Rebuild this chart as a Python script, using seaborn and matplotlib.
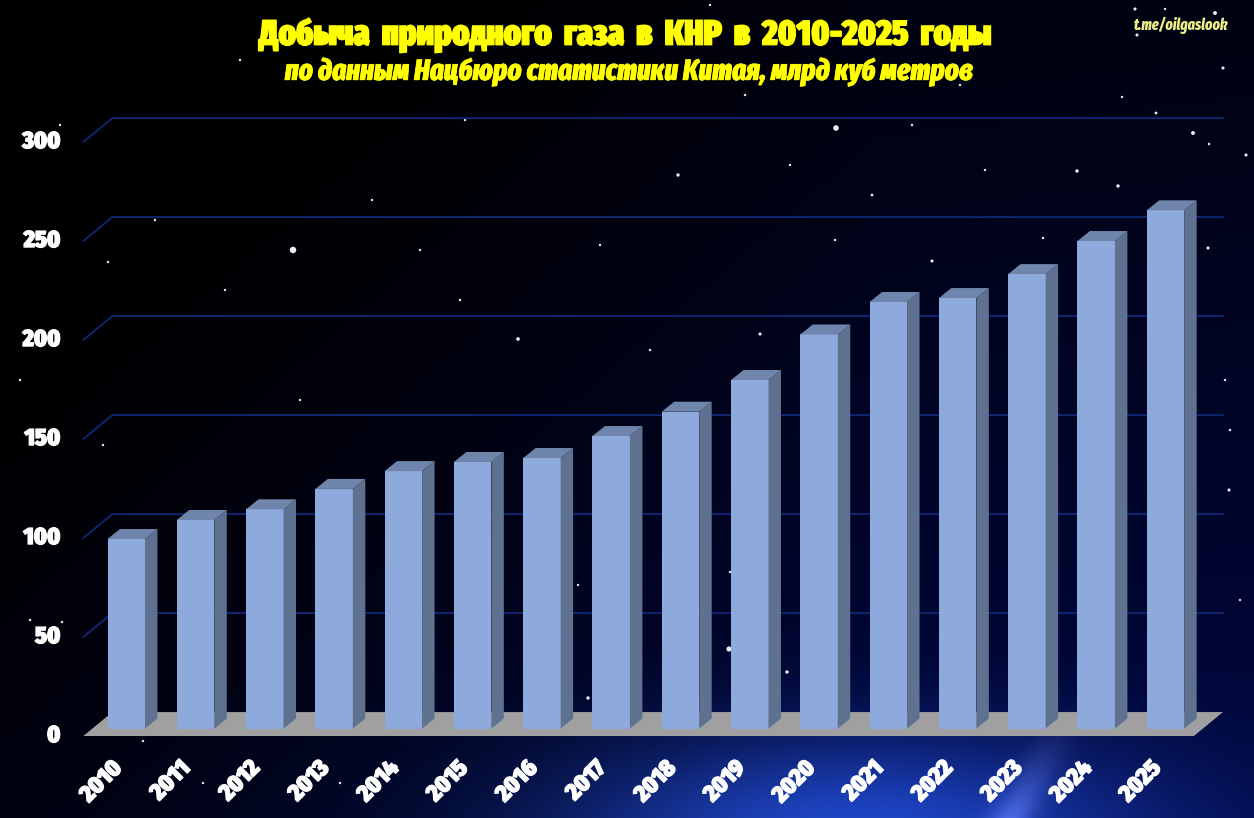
import numpy as np
import matplotlib
matplotlib.use('Agg')
import matplotlib.pyplot as plt
import matplotlib.patheffects as pe
from matplotlib.patches import Polygon
from matplotlib.transforms import ScaledTranslation
import seaborn as sns

years = ['2010', '2011', '2012', '2013', '2014', '2015', '2016', '2017',
         '2018', '2019', '2020', '2021', '2022', '2023', '2024', '2025']
output_bcm = [95.7, 105.3, 110.7, 121, 130, 134.6, 136.6, 147.7,
              160, 176, 199, 215.4, 217.4, 229.5, 246.2, 261.7]
y_ticks = [0, 50, 100, 150, 200, 250, 300]

title = 'Добыча  природного  газа  в  КНР  в  2010-2025  годы'
subtitle = 'по данным Нацбюро статистики Китая, млрд куб метров'
source = 't.me/oilgaslook'

# звезды фона, в пикселях картинки (x, y, размер)
stars = [(293, 250, 22), (836, 128, 16), (518, 339, 7), (1193, 133, 8), (1246, 155, 5),
         (678, 175, 6), (760, 334, 5), (729, 649, 14), (588, 698, 6), (787, 672, 6),
         (1229, 490, 5), (1118, 186, 6), (1077, 171, 6), (932, 261, 5), (872, 195, 4),
         (1215, 13, 8), (1135, 9, 5), (1165, 9, 3), (1137, 35, 5), (1223, 68, 5),
         (1156, 113, 4), (1043, 238, 3), (1208, 248, 5), (1166, 258, 4), (1209, 144, 3),
         (1122, 97, 3), (60, 125, 3), (108, 262, 3), (155, 220, 3), (225, 290, 3),
         (372, 200, 3), (420, 250, 3), (465, 120, 3), (600, 245, 3), (745, 95, 3),
         (912, 125, 3), (985, 170, 3), (30, 620, 3), (62, 622, 3), (103, 445, 3),
         (20, 380, 3), (143, 741, 3), (203, 783, 3), (340, 783, 3), (560, 600, 3),
         (578, 585, 3), (730, 572, 3), (790, 165, 3), (835, 240, 3), (960, 85, 3),
         (1240, 600, 3), (1225, 380, 3), (240, 60, 3), (710, 5, 3), (1195, 700, 3),
         (1040, 400, 3), (1230, 430, 3), (650, 350, 3), (300, 400, 3), (460, 300, 3)]

W, H = 1254, 818
DEPTH_X, DEPTH_Y = 0.18, 5.05  # сдвиг боковой грани бара

sns.set_theme(style='dark')
heavy_font = ['Fira Sans Condensed', 'Roboto Condensed', 'DejaVu Sans']
narrow_font = ['Fira Sans Extra Condensed', 'Roboto Condensed', 'DejaVu Sans']
plt.rcParams['font.family'] = heavy_font

fig = plt.figure(figsize=(W / 100, H / 100), dpi=100)

# фон: темно-синий градиент со свечением снизу
bg = fig.add_axes([0, 0, 1, 1], zorder=0)
yy, xx = np.mgrid[0:H, 0:W]
navy = np.clip(0.05 + (xx / W) * 0.45 + (yy / H) * 0.6 - np.abs(xx / W - 0.7) * 0.35, 0, 1) ** 1.5
glow = np.exp(-((xx - 850.0) / 300) ** 2 - ((yy - 835.0) / 100) ** 2)
streak = np.exp(-((xx - 1010.0 - (818.0 - yy) * 0.55) / 22) ** 2) * np.clip((yy - 690.0) / 128, 0, 1) ** 1.5
img = np.zeros((H, W, 3))
img[..., 0] = 0.12 * glow + 0.2 * streak
img[..., 1] = 0.03 * navy + 0.25 * glow + 0.2 * streak
img[..., 2] = 0.26 * navy + 0.55 * glow + 0.25 * streak
bg.imshow(np.clip(img, 0, 1), extent=[0, W, H, 0], aspect='auto')
bg.scatter([s[0] for s in stars], [s[1] for s in stars], s=[s[2] for s in stars],
           color='#e8ecf5', linewidths=0)
bg.set_xlim(0, W)
bg.set_ylim(H, 0)
bg.axis('off')

ax = fig.add_axes([91.6 / W, (H - 728.5) / H, 1108.5 / W, 594 / H], zorder=1)
ax.patch.set_visible(False)

sns.barplot(x=years, y=output_bcm, color='#8EA9DB', width=0.541, saturation=1,
            linewidth=0, zorder=3, ax=ax)
ax.set_xlim(-0.5, 15.5)
ax.set_ylim(0, 300)

# объем баров: боковая и верхняя грани
for bar in list(ax.patches):
    x0, x1 = bar.get_x(), bar.get_x() + bar.get_width()
    top = bar.get_height()
    ax.add_patch(Polygon([(x1, 0), (x1 + DEPTH_X, DEPTH_Y), (x1 + DEPTH_X, top + DEPTH_Y), (x1, top)],
                         fc='#5F7191', ec='none', zorder=3))
    ax.add_patch(Polygon([(x0, top), (x0 + DEPTH_X, top + DEPTH_Y), (x1 + DEPTH_X, top + DEPTH_Y), (x1, top)],
                         fc='#6F85AB', ec='none', zorder=3))

# пол и сетка
fl_front, fl_back = -3.8, 8.3
fl_x0, fl_x1 = -0.62, 15.38
fl_dx = 0.42
ax.add_patch(Polygon([(fl_x0, fl_front), (fl_x0 + fl_dx, fl_back), (fl_x1 + fl_dx + 0.03, fl_back),
                      (fl_x1 + 0.03, fl_front)],
                     fc='#A0A0A0', ec='none', zorder=2, clip_on=False))
for v in y_ticks[1:]:
    ax.plot([fl_x0, fl_x0 + fl_dx, fl_x1 + fl_dx + 0.03], [v + fl_front, v + fl_back, v + fl_back],
            color='#0F2670', lw=1.4, zorder=1, clip_on=False)

ax.set_xlabel('')
ax.set_ylabel('')
ax.set_yticks(y_ticks)
ax.grid(False)
sns.despine(ax=ax, left=True, bottom=True)
ax.tick_params(axis='both', length=0)
ax.tick_params(axis='y', pad=22.5)
ax.tick_params(axis='x', pad=20)

white_stroke = [pe.withStroke(linewidth=0.9, foreground='white')]
for lab in ax.get_yticklabels():
    lab.set(color='white', fontsize=17, fontweight=900, path_effects=white_stroke)
    lab.set_transform(lab.get_transform() + ScaledTranslation(0, -4.5 / 100, fig.dpi_scale_trans))
for lab in ax.get_xticklabels():
    lab.set(color='white', fontsize=17, fontweight=900, rotation=45, ha='center', path_effects=white_stroke)
    lab.set_transform(lab.get_transform() + ScaledTranslation(-25 / 100, 0, fig.dpi_scale_trans))

yellow = '#FFFF00'
fig.text(626 / W, 1 - 35 / H, title, color=yellow, fontsize=25.5, fontweight=900, family=narrow_font,
         ha='center', va='center', path_effects=[pe.withStroke(linewidth=0.9, foreground=yellow)], zorder=5)
fig.text(629 / W, 1 - 72 / H, subtitle, color=yellow, fontsize=21, fontweight=800, style='italic',
         family=narrow_font, ha='center', va='center',
         path_effects=[pe.withStroke(linewidth=0.5, foreground=yellow)], zorder=5)
fig.text(1181 / W, 1 - 25 / H, source, color='#EEEE88', fontsize=11, fontweight=800, style='italic',
         family=narrow_font, ha='center', va='center', zorder=5)

fig.savefig('out.png', dpi=100)
